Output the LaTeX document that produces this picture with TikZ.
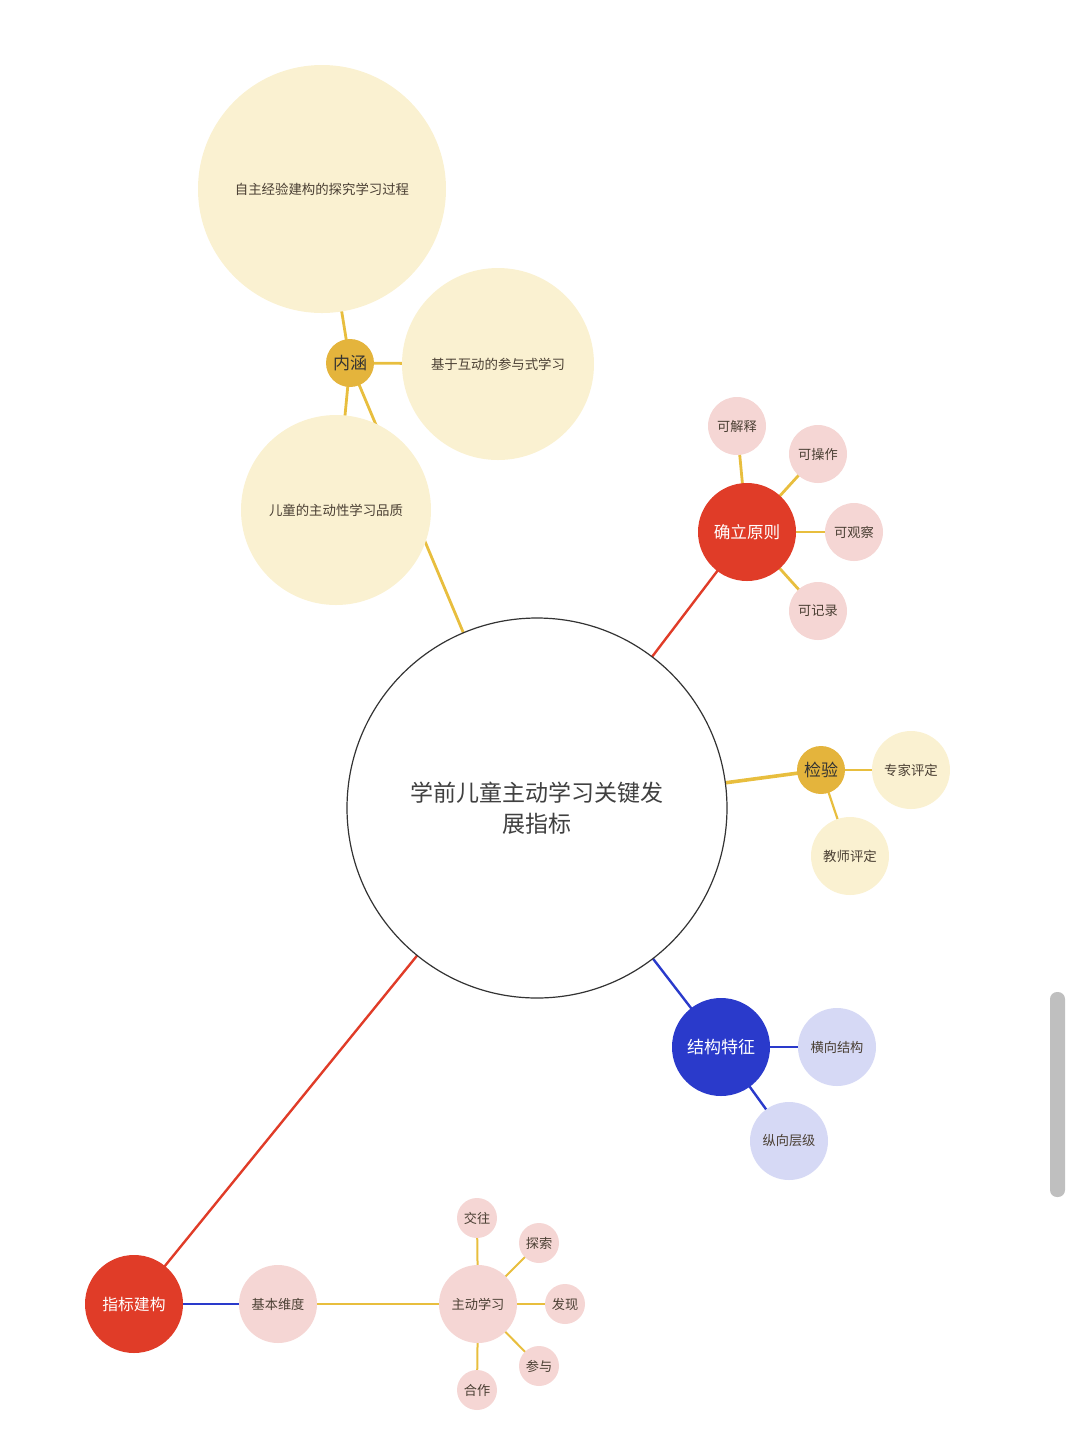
\documentclass[tikz,border=0pt]{standalone}
\usepackage{fontspec}
\setmainfont{Noto Sans CJK SC}
\usetikzlibrary{backgrounds}

\definecolor{gold}{HTML}{E4B43C}
\definecolor{goldline}{HTML}{E8BE3E}
\definecolor{cream}{HTML}{FAF1D1}
\definecolor{mapred}{HTML}{E03C28}
\definecolor{pinkfill}{HTML}{F5D6D4}
\definecolor{mapblue}{HTML}{2A3ACB}
\definecolor{lavender}{HTML}{D6D9F5}
\definecolor{textdark}{HTML}{4A3F33}
\definecolor{scrollgray}{HTML}{BFBFBF}

\begin{document}
\begin{tikzpicture}[
  x=0.5pt, y=-0.5pt,
  bubble/.style={circle, inner sep=0pt, align=center, text=textdark},
  root/.style={bubble, draw=black!80, line width=0.6pt, fill=white, minimum size=190pt,
    font=\fontsize{11.5}{15.5}\selectfont, text=black!75},
  hub/.style={bubble, fill=gold, minimum size=24pt, font=\fontsize{8.5}{10}\selectfont, text=black!80},
  mainred/.style={bubble, fill=mapred, minimum size=49pt, text=white, font=\fontsize{8.3}{10}\selectfont},
  mainblue/.style={bubble, fill=mapblue, minimum size=49pt, text=white, font=\fontsize{8.5}{10}\selectfont},
  creambig/.style={bubble, fill=cream, font=\fontsize{6.7}{8}\selectfont},
  pinkleaf/.style={bubble, fill=pinkfill, font=\fontsize{6.6}{8}\selectfont},
  blueleaf/.style={bubble, fill=lavender, minimum size=39pt, font=\fontsize{6.6}{8}\selectfont},
  goldedge/.style={draw=goldline, line width=1.4pt},
  rededge/.style={draw=mapred, line width=1.2pt},
  blueedge/.style={draw=mapblue, line width=1.2pt}
]
  \useasboundingbox (0,0) rectangle (1080,1432);

  % centre
  \node[root] (center) at (537,808) {学前儿童主动学习关键发\\展指标};

  % 内涵
  \node[hub] (neihan) at (350,363) {内涵};
  \node[creambig, minimum size=124pt] (zizhu) at (322,189) {自主经验建构的探究学习过程};
  \node[creambig, minimum size=96pt] (hudong) at (498,364) {基于互动的参与式学习};
  \node[creambig, minimum size=95pt] (pinzhi) at (336,510) {儿童的主动性学习品质};

  % 确立原则
  \node[mainred] (yuanze) at (747,532) {确立原则};
  \node[pinkleaf, minimum size=29pt] (jieshi) at (737,426) {可解释};
  \node[pinkleaf, minimum size=29pt] (caozuo) at (818,454) {可操作};
  \node[pinkleaf, minimum size=29pt] (guancha) at (854,532) {可观察};
  \node[pinkleaf, minimum size=29pt] (jilu) at (818,611) {可记录};

  % 检验
  \node[hub] (jianyan) at (821,770) {检验};
  \node[creambig, minimum size=39pt] (zhuanjia) at (911,770) {专家评定};
  \node[creambig, minimum size=39pt] (jiaoshi) at (850,856) {教师评定};

  % 结构特征
  \node[mainblue] (jiegou) at (721,1047) {结构特征};
  \node[blueleaf] (hengxiang) at (837,1047) {横向结构};
  \node[blueleaf] (zongxiang) at (789,1141) {纵向层级};

  % 指标建构
  \node[mainred, font=\fontsize{7.9}{10}\selectfont] (jiangou) at (134,1304) {指标建构};
  \node[pinkleaf, minimum size=39pt] (weidu) at (278,1304) {基本维度};
  \node[pinkleaf, minimum size=39pt] (zhudong) at (478,1304) {主动学习};
  \node[pinkleaf, minimum size=20pt] (jiaowang) at (477,1218) {交往};
  \node[pinkleaf, minimum size=20pt] (tansuo) at (539,1243) {探索};
  \node[pinkleaf, minimum size=20pt] (faxian) at (565,1304) {发现};
  \node[pinkleaf, minimum size=20pt] (canyu) at (539,1366) {参与};
  \node[pinkleaf, minimum size=20pt] (hezuo) at (477,1390) {合作};

  \begin{scope}[on background layer]
    \draw[goldedge] (neihan.center) -- (center.center);
    \foreach \leaf in {zizhu, hudong, pinzhi}
      \draw[goldedge] (neihan.center) -- (\leaf.center);
    \draw[rededge] (center.center) -- (yuanze.center);
    \foreach \leaf in {jieshi, caozuo, guancha, jilu}
      \draw[goldedge] (yuanze.center) -- (\leaf.center);
    \draw[goldedge, line width=1.8pt] (center.center) -- (jianyan.center);
    \foreach \leaf in {zhuanjia, jiaoshi}
      \draw[goldedge, line width=1.1pt] (jianyan.center) -- (\leaf.center);
    \draw[blueedge] (center.center) -- (jiegou.center);
    \foreach \leaf in {hengxiang, zongxiang}
      \draw[blueedge] (jiegou.center) -- (\leaf.center);
    \draw[rededge] (center.center) -- (jiangou.center);
    \draw[blueedge] (jiangou.center) -- (weidu.center);
    \draw[goldedge, line width=1pt] (weidu.center) -- (zhudong.center);
    \foreach \leaf in {jiaowang, tansuo, faxian, canyu, hezuo}
      \draw[goldedge, line width=1pt] (zhudong.center) -- (\leaf.center);
  \end{scope}

  % scroll bar
  \fill[scrollgray, rounded corners=3.5pt] (1050,992) rectangle (1065,1197);
\end{tikzpicture}
\end{document}
